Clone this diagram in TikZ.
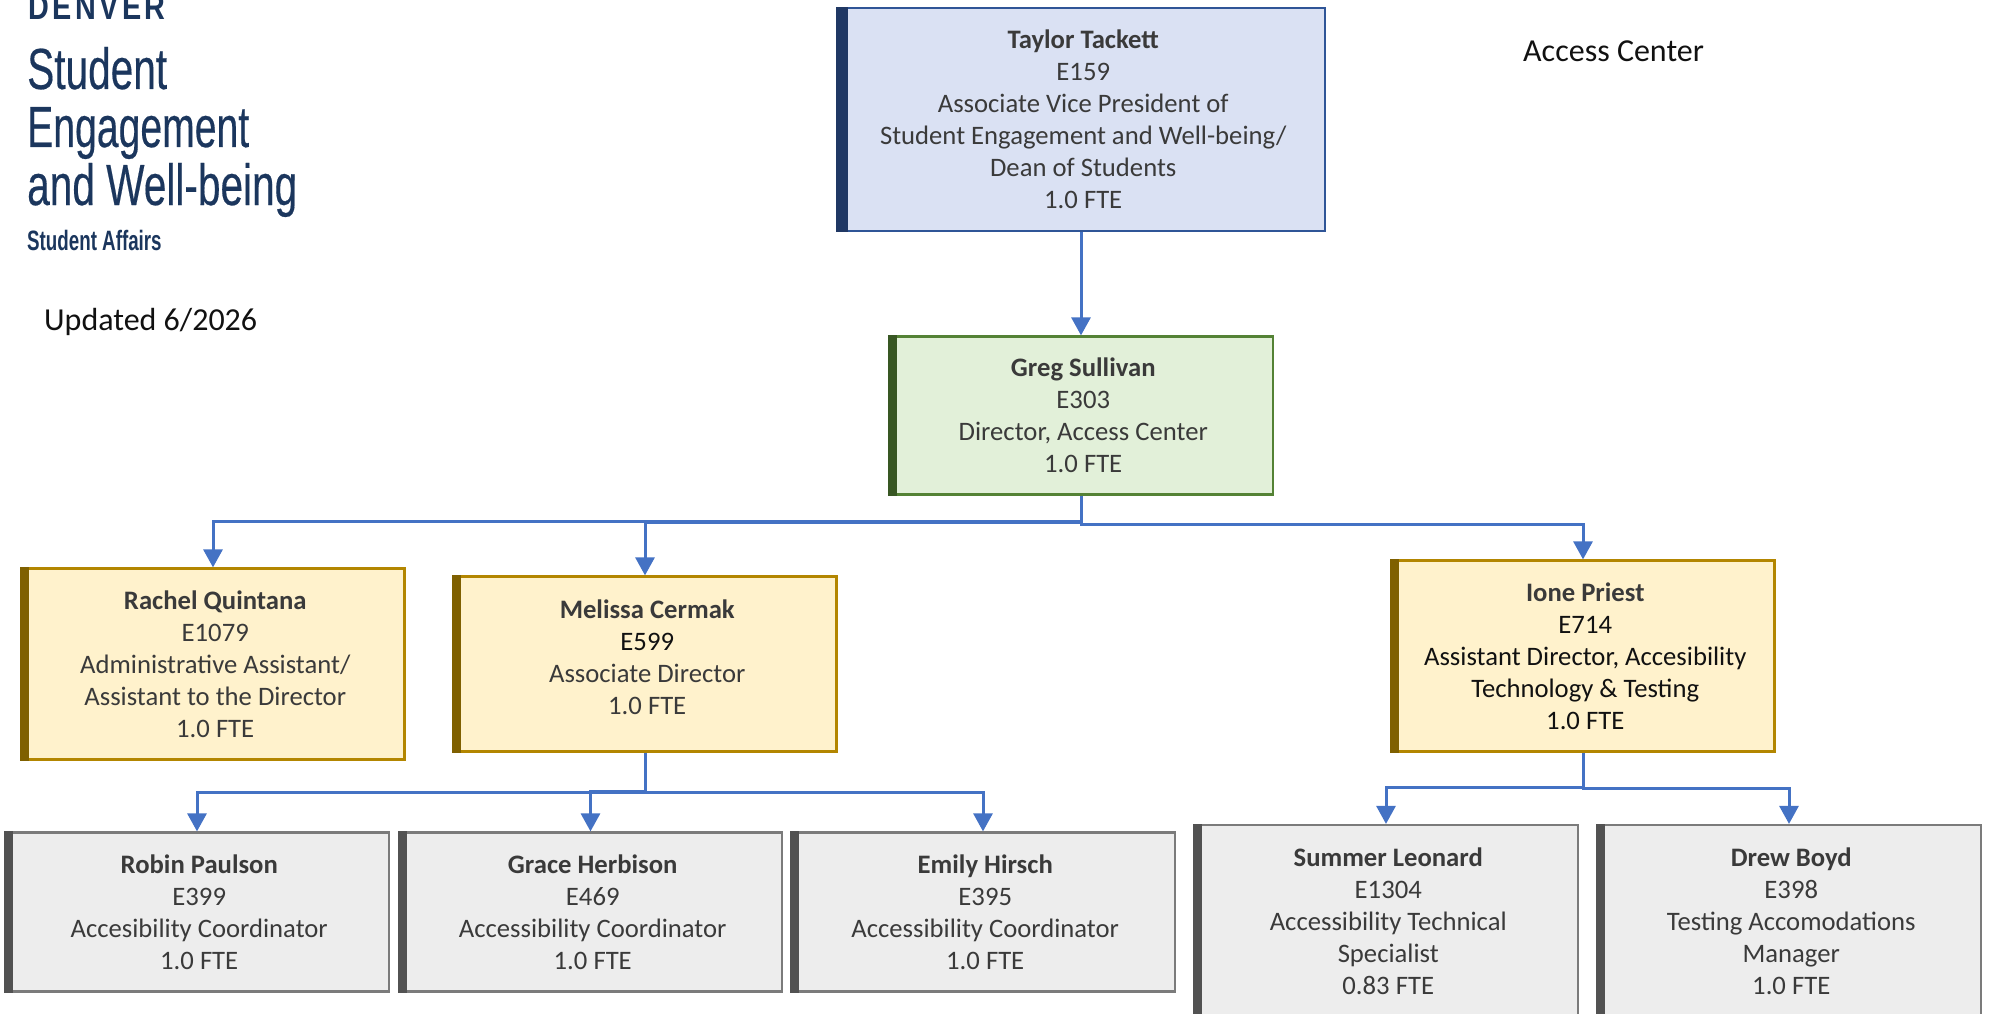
\documentclass[tikz,border=0pt]{standalone}
\usepackage{fontspec}
\setmainfont{Carlito}
\newfontfamily\logofont[FakeBold=0.4]{Liberation Sans}
\newfontfamily\logobold{Liberation Sans Bold}
\newfontfamily\denverfont[LetterSpace=12]{Liberation Sans Bold}
\usetikzlibrary{arrows.meta}
\definecolor{linkblue}{HTML}{4472C4}
\definecolor{navyink}{HTML}{1B365D}
\definecolor{bodyink}{HTML}{3A3A3A}
\definecolor{blackink}{HTML}{111111}
\definecolor{bluefill}{HTML}{DAE1F3}
\definecolor{blueedge}{HTML}{2F5597}
\definecolor{bluebar}{HTML}{203864}
\definecolor{greenfill}{HTML}{E2F0D9}
\definecolor{greenedge}{HTML}{548235}
\definecolor{greenbar}{HTML}{385723}
\definecolor{goldfill}{HTML}{FFF2CC}
\definecolor{goldedge}{HTML}{B38600}
\definecolor{goldbar}{HTML}{7F6000}
\definecolor{greyfill}{HTML}{EDEDED}
\definecolor{greyedge}{HTML}{7B7B7B}
\definecolor{greybar}{HTML}{525252}
\newcommand{\rowsof}[1]{\hspace*{4.5pt}\begin{tabular}{@{}c@{}}\\[-26pt]#1\end{tabular}}
\newcommand{\barof}[3]{\fill[#2] (#1.north west) rectangle ([xshift=#3]#1.south west);}
\tikzset{
  orgbox/.style n args={4}{
    draw=#2, fill=#1, line width=2.2pt, rectangle, inner sep=0pt,
    minimum width=#3, minimum height=#4,
    text=bodyink, font=\fontsize{26.67}{32}\selectfont
  },
  conn/.style={draw=linkblue, line width=3pt, line join=miter,
    -{Triangle[width=19pt,length=18pt]}},
  plain/.style={anchor=base west, inner sep=0pt},
  logo/.style={anchor=base west, inner sep=0pt, text=navyink},
}
\begin{document}
\begin{tikzpicture}[x=1pt,y=1pt]
\useasboundingbox (0,0) rectangle (1990,-1014);
\clip (0,0) rectangle (1990,-1014);
% logo
\node[logo] (denver) at (28,-20) {\scalebox{0.8}[1]{\fontsize{36}{36}\denverfont DENVER}};
\node[logo] (lstudent) at (27,-89) {\scalebox{0.7}[1]{\fontsize{58}{58}\logofont Student}};
\node[logo] (lengage) at (27,-147) {\scalebox{0.675}[1]{\fontsize{58}{58}\logofont Engagement}};
\node[logo] (lwell) at (27,-205) {\scalebox{0.7}[1]{\fontsize{58}{58}\logofont and Well-being}};
\node[logo] (laffairs) at (27,-250) {\scalebox{0.67}[1]{\fontsize{28}{28}\logobold Student Affairs}};
\node[plain, text=blackink, font=\fontsize{32}{36}\selectfont] (updated) at (44,-330.5) {Updated 6/2026};
\node[plain, text=blackink, font=\fontsize{32}{36}\selectfont] (title) at (1523,-62) {Access Center};
% boxes
\node[orgbox={bluefill}{blueedge}{488pt}{223pt}] (taylor) at (1081,-119.5) {\rowsof{\textbf{Taylor Tackett}\\E159\\Associate Vice President of\\Student Engagement and Well-being/\\Dean of Students\\1.0 FTE}};
\node[orgbox={greenfill}{greenedge}{384pt}{158pt}] (greg) at (1081,-415.5) {\rowsof{\textbf{Greg Sullivan}\\E303\\Director, Access Center\\1.0 FTE}};
\node[orgbox={goldfill}{goldedge}{383pt}{191pt}] (rachel) at (213,-664) {\rowsof{\textbf{Rachel Quintana}\\E1079\\Administrative Assistant/\\Assistant to the Director\\1.0 FTE}};
\node[orgbox={goldfill}{goldedge}{383pt}{175pt}] (melissa) at (645,-664) {\rowsof{\textbf{Melissa Cermak}\\\textcolor{blackink}{E599}\\Associate Director\\1.0 FTE\\[-18pt]\mbox{}}};
\node[orgbox={goldfill}{goldedge}{383pt}{191pt}] (ione) at (1583,-656) {\rowsof{\textbf{Ione Priest}\\\textcolor{blackink}{E714}\\\textcolor{blackink}{Assistant Director, Accesibility}\\\textcolor{blackink}{Technology \& Testing}\\\textcolor{blackink}{1.0 FTE}}};
\node[orgbox={greyfill}{greyedge}{383.5pt}{159pt}] (robin) at (197,-912) {\rowsof{\textbf{Robin Paulson}\\E399\\Accesibility Coordinator\\1.0 FTE}};
\node[orgbox={greyfill}{greyedge}{383.5pt}{159pt}] (grace) at (590.5,-912) {\rowsof{\textbf{Grace Herbison}\\E469\\Accessibility Coordinator\\1.0 FTE}};
\node[orgbox={greyfill}{greyedge}{383.5pt}{159pt}] (emily) at (983,-912) {\rowsof{\textbf{Emily Hirsch}\\E395\\Accessibility Coordinator\\1.0 FTE}};
\node[orgbox={greyfill}{greyedge}{383.5pt}{192pt}] (summer) at (1386,-921) {\rowsof{\textbf{Summer Leonard}\\E1304\\Accessibility Technical\\Specialist\\0.83 FTE}};
\node[orgbox={greyfill}{greyedge}{383.5pt}{192pt}] (drew) at (1789,-921) {\rowsof{\textbf{Drew Boyd}\\E398\\Testing Accomodations\\Manager\\1.0 FTE}};
% left bars
\barof{taylor}{bluebar}{12pt}
\barof{greg}{greenbar}{9pt}
\barof{rachel}{goldbar}{9pt}
\barof{melissa}{goldbar}{9pt}
\barof{ione}{goldbar}{9pt}
\barof{robin}{greybar}{9pt}
\barof{grace}{greybar}{9pt}
\barof{emily}{greybar}{9pt}
\barof{summer}{greybar}{9pt}
\barof{drew}{greybar}{9pt}
% bus levels
\coordinate (busA) at (0,-521);
\coordinate (busB) at (0,-522.5);
\coordinate (busC) at (0,-524);
\coordinate (busD) at (0,-792);
\coordinate (busE) at (0,-791);
\coordinate (busF) at (0,-787);
\coordinate (busG) at (0,-788);
% connectors
\draw[conn] (taylor.south) -- (greg.north);
\draw[conn] (greg.south) -- (greg.south |- busA) -- (rachel.north |- busA) -- (rachel.north);
\draw[conn] (greg.south) -- (greg.south |- busB) -- (melissa.north |- busB) -- (melissa.north);
\draw[conn] (greg.south) -- (greg.south |- busC) -- (ione.north |- busC) -- (ione.north);
\draw[conn] (melissa.south) -- (melissa.south |- busD) -- (robin.north |- busD) -- (robin.north);
\draw[conn] (melissa.south) -- (melissa.south |- busE) -- (grace.north |- busE) -- (grace.north);
\draw[conn] (melissa.south) -- (melissa.south |- busD) -- (emily.north |- busD) -- (emily.north);
\draw[conn] (ione.south) -- (ione.south |- busF) -- (summer.north |- busF) -- (summer.north);
\draw[conn] (ione.south) -- (ione.south |- busG) -- (drew.north |- busG) -- (drew.north);
\end{tikzpicture}
\end{document}
